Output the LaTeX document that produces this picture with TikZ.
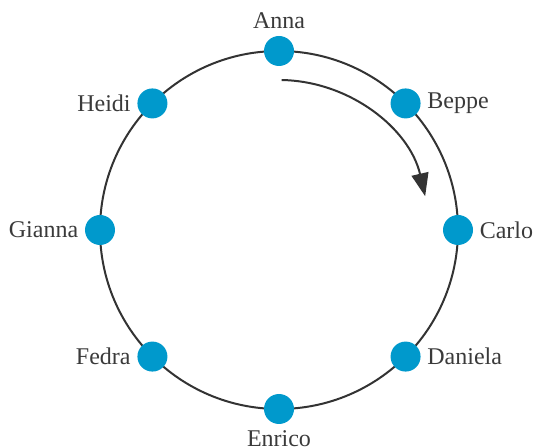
\documentclass[tikz,border=0pt]{standalone}
\usepackage{fontspec}
\setmainfont{Liberation Serif}
\usetikzlibrary{arrows.meta}

\definecolor{nodeblue}{HTML}{0099CC}
\definecolor{ringgray}{HTML}{333333}
\definecolor{namegray}{HTML}{3A3A3A}

\begin{document}
\begin{tikzpicture}[
    x=0.5pt, y=0.5pt,
    % seats on the ring
    seat/.style={circle, fill=nodeblue, minimum size=15pt, inner sep=0pt},
    seatname/.style={font=\fontsize{12}{14}\selectfont, text=namegray, inner sep=1pt},
    ring/.style={draw=ringgray, line width=1pt},
    turn/.style={draw=ringgray, line width=1pt, -{Triangle[length=11.5pt, width=8.5pt]}}
]
\useasboundingbox (-279,-218) rectangle (255,230);

% Round table
\draw[ring] (0,0) circle (179);

% Seats, clockwise from the top
\foreach \id/\ang/\side/\name in {anna/90/above/Anna, beppe/45/right/Beppe,
    carlo/0/right/Carlo, daniela/-45/right/Daniela, enrico/-90/below/Enrico,
    fedra/-135/left/Fedra, gianna/180/left/Gianna, heidi/135/left/Heidi} {
  \node[seat, label={[seatname, label distance=2pt]\side:\name}] (\id) at (\ang:179) {};
}

% Direction of play
\coordinate (turnstart) at (89:150);
\draw[turn] (turnstart) arc[start angle=89, end angle=13, radius=150];

\end{tikzpicture}
\end{document}
